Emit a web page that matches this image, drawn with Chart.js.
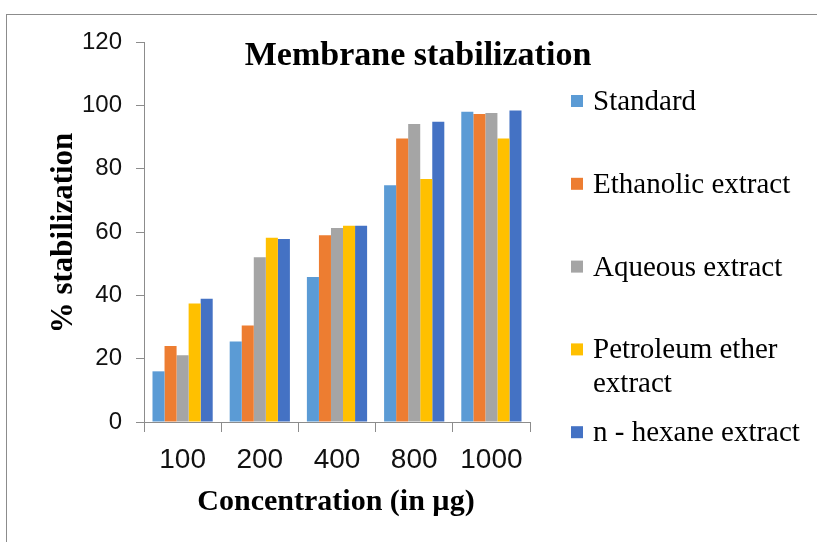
<!DOCTYPE html>
<html>
<head>
<meta charset="utf-8">
<script src="https://cdn.jsdelivr.net/npm/chart.js@4.4.0/dist/chart.umd.min.js"></script>
<style>
  body { margin: 0; background: #fff; }
  #wrap { position: relative; width: 817px; height: 542px; }
  #frame { position: absolute; left: 6px; top: 14px; width: 820px; height: 540px;
           border-top: 1px solid #8c8c8c; border-left: 1px solid #8c8c8c; }
  canvas { position: absolute; left: 0; top: 0; }
</style>
</head>
<body>
<div id="wrap">
  <div id="frame"></div>
  <canvas id="myChart" width="817" height="542"></canvas>
</div>
<script>
// concentrations on the x axis
const concentrations = ['100', '200', '400', '800', '1000']

// % stabilization
const standard = [16, 25.4, 45.8, 74.8, 98]
const ethanolic = [24, 30.5, 59, 89.5, 97.3]
const aqueous = [21.1, 52, 61.3, 94.1, 97.6]
const petroleumEther = [37.4, 58.2, 62, 76.7, 89.5]
const hexane = [38.9, 57.8, 62, 94.8, 98.4]

const seriesNames = ['Standard', 'Ethanolic extract', 'Aqueous extract', 'Petroleum ether extract', 'n - hexane extract']
const seriesColors = ['#5B9BD5', '#ED7D31', '#A5A5A5', '#FFC000', '#4472C4']
const yTicks = [0, 20, 40, 60, 80, 100, 120]

const serif = '"Liberation Serif", "Times New Roman", serif'
const sans = '"Liberation Sans", Arial, sans-serif'

// titles and the legend are drawn by hand, Excel style
const extras = {
  id: 'extras',
  afterDraw(chart) {
    const ctx = chart.ctx
    ctx.save()
    ctx.fillStyle = '#000'
    ctx.textAlign = 'center'
    ctx.textBaseline = 'alphabetic'
    ctx.font = 'bold 34px ' + serif
    ctx.fillText('Membrane stabilization', 418, 65)

    ctx.font = 'bold 30px ' + serif
    ctx.fillText('Concentration (in \u00b5g)', 336, 510)

    ctx.save()
    ctx.translate(72, 233)
    ctx.rotate(-Math.PI / 2)
    ctx.font = 'bold 31px ' + serif
    ctx.fillText('% stabilization', 0, 0)
    ctx.restore()

    // legend
    ctx.textAlign = 'left'
    ctx.font = '29px ' + serif
    chart.data.datasets.forEach((ds, i) => {
      const cy = 101 + i * 82.8
      ctx.fillStyle = ds.backgroundColor
      ctx.fillRect(571, cy - 6, 12, 12)
      ctx.fillStyle = '#000'
      let lines = [ds.label]
      if (ctx.measureText(ds.label).width > 230) {
        const words = ds.label.split(' ')
        lines = [words.slice(0, -1).join(' '), words[words.length - 1]]
      }
      lines.forEach((t, j) => ctx.fillText(t, 593, cy + 9 + j * 34))
    })
    ctx.restore()
  }
}

const seriesData = [standard, ethanolic, aqueous, petroleumEther, hexane]

new Chart(document.getElementById('myChart').getContext('2d'), {
  type: 'bar',
  data: {
    labels: concentrations,
    datasets: seriesData.map((d, i) => ({
      label: seriesNames[i],
      data: d,
      backgroundColor: seriesColors[i],
      borderWidth: 0,
      categoryPercentage: 0.78,
      barPercentage: 1.0
    }))
  },
  options: {
    responsive: false,
    animation: false,
    layout: { padding: { left: 0, right: 287, top: 42, bottom: 0 } },
    plugins: {
      legend: { display: false },
      title: { display: false },
      tooltip: { enabled: false }
    },
    scales: {
      x: {
        afterFit: (scale) => { scale.height = 120 },
        grid: { drawOnChartArea: false, tickLength: 10, color: '#8c8c8c', offset: true },
        border: { color: '#8c8c8c' },
        ticks: { color: '#111', font: { family: sans, size: 28 }, padding: 11 }
      },
      y: {
        min: 0,
        max: 120,
        afterFit: (scale) => { scale.width = 144 },
        afterBuildTicks: (scale) => { scale.ticks = yTicks.map(v => ({ value: v })) },
        grid: { drawOnChartArea: false, tickLength: 8, color: '#8c8c8c' },
        border: { color: '#8c8c8c' },
        ticks: { color: '#111', font: { family: sans, size: 24 }, padding: 14 }
      }
    }
  },
  plugins: [extras]
})
</script>
</body>
</html>
